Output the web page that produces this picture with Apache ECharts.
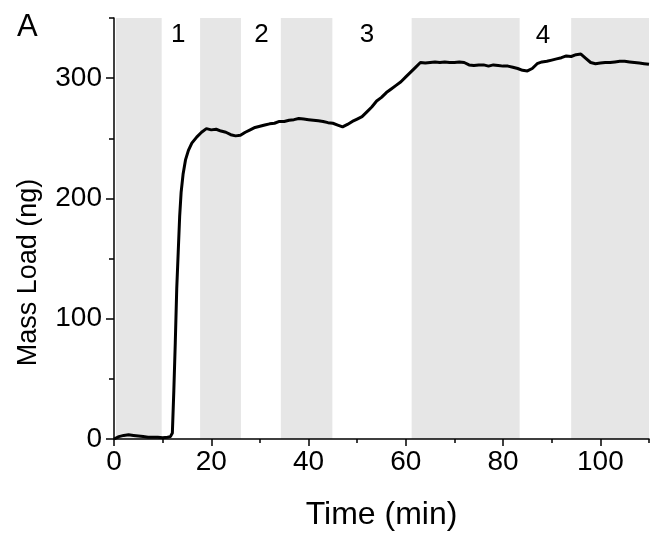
<!DOCTYPE html>
<html>
<head>
<meta charset="utf-8">
<script src="https://cdn.jsdelivr.net/npm/echarts@6/dist/echarts.min.js"></script>
<style>html,body{margin:0;padding:0;background:#fff;}#c{width:664px;height:539px;}</style>
</head>
<body>
<div id="c"></div>
<script>
var timeMin = [0,0.5,1,2,3,4,5,6,7,8,9,10,11,11.6,12.0,12.3,12.6,12.9,13.2,13.5,13.8,14.2,14.7,15.3,16,17,18,19,
  20,21,22,23,24,25,26,27,28,29,30,31,32,33,34,35,36,37,38,39,40,41,42,43,44,45,46,47,48,49,
  50,51,52,53,54,55,56,57,58,59,60,61,62,63,64,65,66,67,68,69,70,71,72,73,74,75,76,77,78,79,
  80,81,82,83,84,85,86,87,88,89,90,91,92,93,94,95,96,97,98,99,100,101,102,103,104,105,106,107,108,109,110];
var massNg = [0,1,2,3,3.5,3,2.5,2,1.5,1.5,1.5,1,1.5,2,5,40,80,125,155,185,205,220,232,240,246,251,255,258,
  257,257.5,256,255,253,252,252.5,255,257,259,260,261,262,262.5,264,264,265,265.5,266.5,266,265.5,265,264.5,264,263,262.5,261,259.5,261.5,264,
  266,268,272,276,281,284,288,291,294,297,301,305,309,313,312.5,313,313.5,313,313.5,313,313,313.5,313,311,310.5,311,311,310,311,310.5,
  310,310,309,308,306.5,306,308,312,313.5,314,315,316,317,318.5,318,319.5,320,316.5,313,312,312.5,313,313,313.5,314,314,313.5,313,312.5,312,311.5];
var bandStart = [0.4, 17.7, 34.3, 61.2, 94.0];
var bandEnd = [9.8, 26.1, 44.9, 83.4, 110];
var stepX = [13.2, 30.3, 52, 88.2];
var stepY = [336, 336, 336, 335];
var stepText = ['1', '2', '3', '4'];
var xMajor = [0, 20, 40, 60, 80, 100];
var xMinor = [10, 30, 50, 70, 90, 110];
var yMajor = [0, 100, 200, 300];
var yMinor = [50, 150, 250, 350];

var chart = echarts.init(document.getElementById('c'), null, {renderer: 'canvas'});
var font = 'Liberation Sans, Arial, sans-serif';
var lineData = timeMin.map(function (t, i) { return [t, massNg[i]]; });
var areas = bandStart.map(function (s, i) { return [{xAxis: s}, {xAxis: bandEnd[i]}]; });
var labelData = stepX.map(function (x, i) { return {value: [x, stepY[i]], name: stepText[i]}; });

function baseX(extra) {
  return Object.assign({
    type: 'value', min: 0, max: 110, gridIndex: 0, position: 'bottom', z: 10,
    splitLine: {show: false}
  }, extra);
}
function baseY(extra) {
  return Object.assign({
    type: 'value', min: 0, max: 350, gridIndex: 0, position: 'left', z: 10,
    splitLine: {show: false}
  }, extra);
}

chart.setOption({
  animation: false,
  backgroundColor: '#fff',
  title: {text: 'A', left: 12, top: 7, textStyle: {fontFamily: font, fontSize: 31, fontWeight: 'normal', color: '#000'}},
  grid: {left: 114, top: 18, right: 15, bottom: 100, containLabel: false},
  xAxis: [
    baseX({
      interval: 10,
      name: 'Time (min)', nameLocation: 'middle', nameGap: 60,
      nameTextStyle: {fontFamily: font, fontSize: 32, color: '#000'},
      axisLine: {show: true, lineStyle: {color: '#000', width: 1.5}},
      axisTick: {show: true, customValues: xMajor, length: 7, inside: false, lineStyle: {color: '#000', width: 1.5}},
      axisLabel: {customValues: xMajor, fontFamily: font, fontSize: 28, color: '#000', margin: 9}
    }),
    baseX({
      interval: 10,
      axisLine: {show: false},
      axisTick: {show: true, customValues: xMinor, length: 4, lineStyle: {color: '#000', width: 1.5}},
      axisLabel: {show: false}
    })
  ],
  yAxis: [
    baseY({
      interval: 50,
      name: 'Mass Load (ng)', nameLocation: 'middle', nameGap: 72,
      nameTextStyle: {fontFamily: font, fontSize: 27, color: '#000', padding: [0, 88, 0, 0]},
      axisLine: {show: true, lineStyle: {color: '#000', width: 1.5}},
      axisTick: {show: true, customValues: yMajor, length: 8, lineStyle: {color: '#000', width: 1.5}},
      axisLabel: {customValues: yMajor, fontFamily: font, fontSize: 28, color: '#000', margin: 12}
    }),
    baseY({
      interval: 50,
      axisLine: {show: false},
      axisTick: {show: true, customValues: yMinor, length: 5, lineStyle: {color: '#000', width: 1.5}},
      axisLabel: {show: false}
    })
  ],
  series: [
    {
      type: 'scatter', xAxisIndex: 0, yAxisIndex: 0, z: 1,
      symbolSize: 0, data: labelData,
      itemStyle: {opacity: 1},
      label: {show: true, position: 'inside', formatter: '{b}', fontFamily: font, fontSize: 26, color: '#000', opacity: 1, textBorderWidth: 0},
      markArea: {silent: true, itemStyle: {color: '#e6e6e6'}, data: areas},
      emphasis: {disabled: true}
    },
    {
      type: 'line', xAxisIndex: 0, yAxisIndex: 0, z: 5,
      data: lineData, showSymbol: false, symbol: 'none', smooth: false,
      lineStyle: {color: '#000', width: 3},
      clip: false
    }
  ]
});
</script>
</body>
</html>
